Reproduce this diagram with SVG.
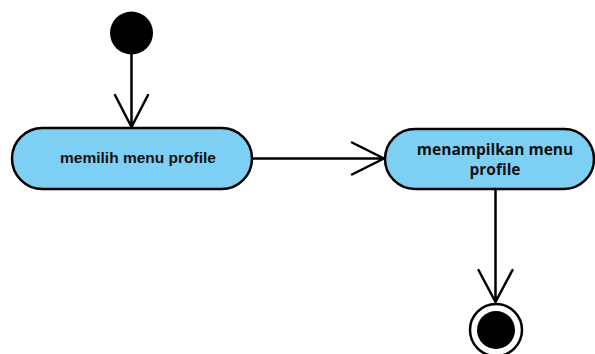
<svg xmlns="http://www.w3.org/2000/svg" width="595" height="354" viewBox="0 0 595 354">
<defs>
<style>
.act{fill:#7dcff4;stroke:#000;stroke-width:2.5}
.edge{fill:none;stroke:#000;stroke-width:2.5;stroke-linecap:round;stroke-linejoin:round}
.t1{font-family:"Liberation Sans",Arial,sans-serif;font-weight:bold;font-size:15.5px;fill:#111}
.t2{font-family:"Open Sans","Noto Sans",sans-serif;font-weight:bold;font-size:15.5px;fill:#111}
</style>
</defs>
<rect width="595" height="354" fill="#fff"/>
<g id="start"><circle cx="131.5" cy="33" r="21.5" fill="#000"/></g>
<g id="node1">
<rect class="act" x="12" y="128" width="240" height="61" rx="30.5"/>
<text class="t1" x="138" y="163" text-anchor="middle">memilih menu profile</text>
</g>
<g id="node2">
<rect class="act" x="385" y="129" width="209" height="60" rx="30"/>
<text class="t2" text-anchor="middle"><tspan x="495" y="155">menampilkan menu</tspan><tspan x="495" y="175">profile</tspan></text>
</g>
<g id="end">
<circle cx="496" cy="330" r="26" fill="#fff" stroke="#000" stroke-width="2.5"/>
<circle cx="496" cy="330" r="19" fill="#000"/>
</g>
<g id="connectors">
<path class="edge" d="M131.5 54V127M115 95L131.5 127L148 95"/>
<path class="edge" d="M252 158.5H384M352 142.5L384 158.5L352 174.5"/>
<path class="edge" d="M495.5 189V302M478.5 270L495.5 302L512.5 270"/>
</g>
</svg>
